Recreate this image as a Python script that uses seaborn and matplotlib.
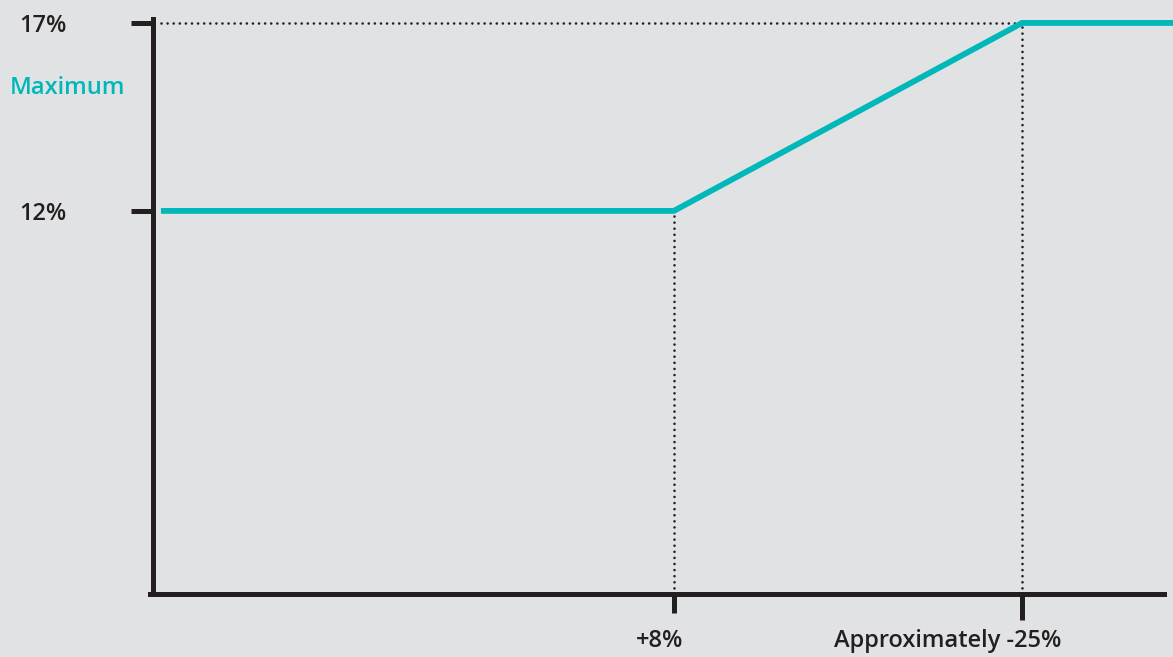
import matplotlib
matplotlib.use("Agg")
import matplotlib.pyplot as plt
import matplotlib.transforms as mtransforms
import seaborn as sns
import pandas as pd

# ---- data ----
x_change = [56.6, 8, -25, -40]        # change in index (axis runs from + to -)
max_rate = [12, 12, 17, 17]            # maximum rate, %
y_ticks = [12, 17]
y_tick_labels = ["12%", "17%"]
x_ticks = [8, -25]
x_tick_labels = ["+8%", "Approximately -25%"]
series_label = "Maximum"

BG = "#e1e2e4"
TEAL = "#00b8b9"
INK = "#231f20"

sns.set_style("white", {"axes.facecolor": BG, "figure.facecolor": BG})
plt.rcParams["font.family"] = ["Open Sans", "DejaVu Sans"]
FW = "semibold"

fig = plt.figure(figsize=(11.73, 6.57), dpi=100)
ax = fig.add_axes([152.5 / 1173, 63 / 657, 1 - 152.5 / 1173, 594 / 657])

df = pd.DataFrame({"x": x_change, "y": max_rate})
sns.lineplot(data=df, x="x", y="y", ax=ax, color=TEAL, linewidth=4.2,
             sort=False, solid_joinstyle="miter", solid_capstyle="butt")

ax.set_xlim(57.4, -39.3)
ax.set_ylim(1.81, 17.61)

# dotted guide lines
dot = dict(color=INK, linewidth=1.9, linestyle=(0, (0.01, 2.3)),
           dash_capstyle="round", zorder=1)
ax.plot([x_change[0], x_change[2]], [max_rate[2], max_rate[2]], **dot)
ax.plot([x_change[1], x_change[1]], [ax.get_ylim()[0], max_rate[1]], **dot)
ax.plot([x_change[2], x_change[2]], [ax.get_ylim()[0], max_rate[2]], **dot)

# spines
for s in ["top", "right"]:
    ax.spines[s].set_visible(False)
for s in ["left", "bottom"]:
    ax.spines[s].set_color(INK)
    ax.spines[s].set_linewidth(3.6)
ax.spines["left"].set_bounds(1.81, 17.1)
ax.spines["bottom"].set_bounds(-38.4, 57.6)

ax.set_yticks(y_ticks)
ax.set_yticklabels(y_tick_labels, fontweight=FW)
ax.tick_params(axis="y", left=True, direction="out", length=16, width=3.6,
               color=INK, pad=46, labelsize=17, labelcolor=INK)
ax.set_xticks(x_ticks)
ax.set_xticklabels(["", ""])
ax.tick_params(axis="x", bottom=True, direction="out", length=14, width=3.6,
               color=INK)
ax.xaxis.get_major_ticks()[1].tick1line.set_markersize(19)

ax.set_xlabel("")
ax.set_ylabel("")

# x tick labels (shifted left of their ticks, as in the original)
offsets_px = [-14, -74]
for xv, lab, dx in zip(x_ticks, x_tick_labels, offsets_px):
    tr = mtransforms.blended_transform_factory(ax.transData, ax.transAxes) + \
        mtransforms.ScaledTranslation(dx / 100, 0, fig.dpi_scale_trans)
    ax.text(xv, -(641 - 594) / 594, lab, transform=tr, ha="center", va="center",
            fontsize=17, color=INK, clip_on=False, fontweight=FW)

fig.text(10 / 1173, 1 - 88 / 657, series_label, color=TEAL, fontsize=17,
         ha="left", va="center", fontweight=FW)

fig.savefig("out.png", dpi=100, facecolor=BG)
